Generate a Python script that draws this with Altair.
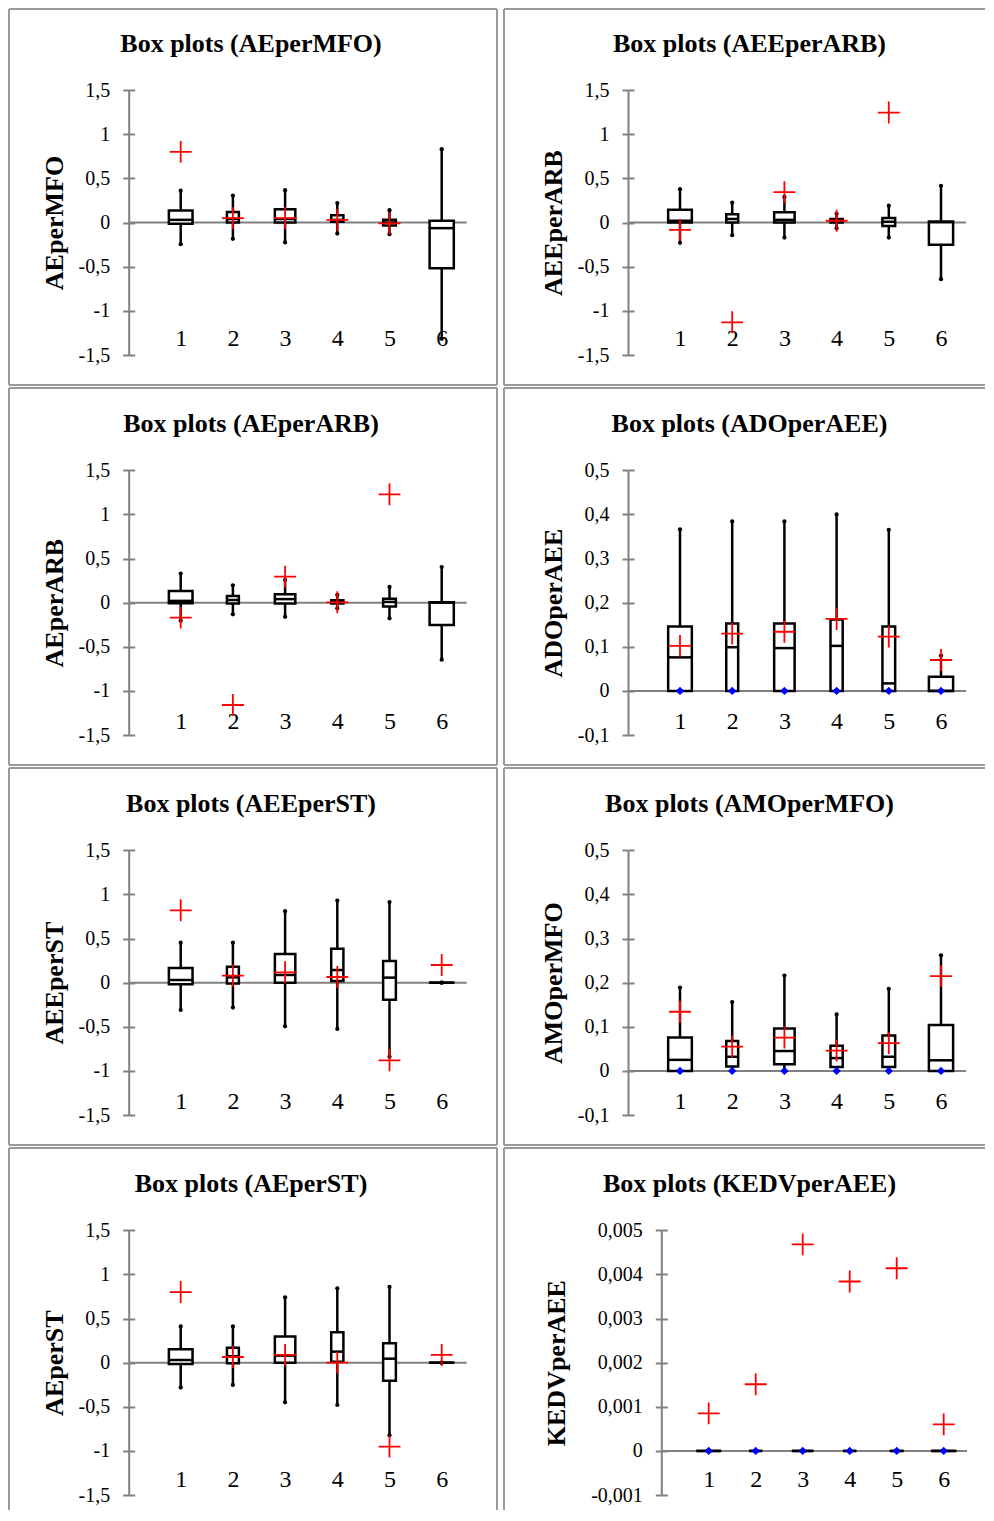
import altair as alt
import pandas as pd

# ---------------- data ----------------
groups = [1, 2, 3, 4, 5, 6]
# relative box widths (XLSTAT draws boxes proportional to group size)
box_rel_width = [0.98, 0.54, 0.86, 0.55, 0.57, 1.0]

# Box plots (AEperMFO)
aepermfo_lo = [-0.245, -0.185, -0.226, -0.125, -0.132, -1.317]
aepermfo_q1 = [-0.015, 0.0, 0.0, 0.008, -0.034, -0.517]
aepermfo_med = [0.03, 0.04, 0.04, 0.03, 0.0, -0.064]
aepermfo_q3 = [0.136, 0.12, 0.15, 0.083, 0.03, 0.02]
aepermfo_hi = [0.36, 0.305, 0.366, 0.22, 0.14, 0.83]
aepermfo_mean = [0.80, 0.05, 0.05, 0.03, -0.01, None]

# Box plots (AEEperARB)
aeeperarb_lo = [-0.23, -0.143, -0.17, -0.064, -0.17, -0.642]
aeeperarb_q1 = [0.0, 0.0, 0.0, 0.0, -0.04, -0.253]
aeeperarb_med = [0.02, 0.04, 0.03, 0.02, 0.008, 0.003]
aeeperarb_q3 = [0.143, 0.094, 0.117, 0.04, 0.05, 0.01]
aeeperarb_hi = [0.377, 0.226, 0.29, 0.098, 0.19, 0.415]
aeeperarb_mean = [-0.083, -1.13, 0.343, 0.02, 1.245, None]

# Box plots (AEperARB)
aeperarb_lo = [-0.204, -0.132, -0.16, -0.064, -0.178, -0.646]
aeperarb_q1 = [-0.008, -0.01, -0.01, -0.01, -0.045, -0.253]
aeperarb_med = [0.02, 0.03, 0.04, 0.008, 0.008, 0.0]
aeperarb_q3 = [0.132, 0.076, 0.094, 0.026, 0.045, 0.004]
aeperarb_hi = [0.33, 0.196, 0.257, 0.087, 0.178, 0.404]
aeperarb_mean = [-0.17, -1.16, 0.295, 0.004, 1.228, None]

# Box plots (ADOperAEE)
adoperaee_lo = [0.0, 0.0, 0.0, 0.0, 0.0, 0.0]
adoperaee_q1 = [0.0, 0.0, 0.0, 0.0, 0.0, 0.0]
adoperaee_med = [0.076, 0.099, 0.097, 0.102, 0.017, 0.0]
adoperaee_q3 = [0.146, 0.153, 0.153, 0.162, 0.146, 0.032]
adoperaee_hi = [0.366, 0.384, 0.384, 0.40, 0.365, 0.08]
adoperaee_mean = [0.102, 0.13, 0.134, 0.163, 0.123, 0.07]
adoperaee_min = [0.0, 0.0, 0.0, 0.0, 0.0, 0.0]

# Box plots (AEEperST)
aeeperst_lo = [-0.31, -0.283, -0.495, -0.525, -0.84, 0.0]
aeeperst_q1 = [-0.019, -0.011, 0.0, 0.02, -0.193, 0.0]
aeeperst_med = [0.03, 0.06, 0.087, 0.143, 0.057, 0.0]
aeeperst_q3 = [0.166, 0.181, 0.325, 0.385, 0.245, 0.0]
aeeperst_hi = [0.453, 0.453, 0.81, 0.93, 0.914, 0.0]
aeeperst_mean = [0.82, 0.079, 0.117, 0.064, -0.88, 0.2]

# Box plots (AMOperMFO)
amopermfo_lo = [0.0, 0.0, 0.0, 0.0, 0.0, 0.0]
amopermfo_q1 = [0.0, 0.01, 0.015, 0.009, 0.009, 0.0]
amopermfo_med = [0.025, 0.032, 0.045, 0.029, 0.032, 0.024]
amopermfo_q3 = [0.0755, 0.068, 0.096, 0.057, 0.08, 0.104]
amopermfo_hi = [0.189, 0.156, 0.216, 0.128, 0.186, 0.262]
amopermfo_mean = [0.134, 0.055, 0.0755, 0.046, 0.063, 0.215]
amopermfo_min = [0.0, 0.0, 0.0, 0.0, 0.0, 0.0]

# Box plots (AEperST)
aeperst_lo = [-0.283, -0.253, -0.45, -0.48, -0.823, 0.0]
aeperst_q1 = [-0.015, -0.008, 0.0, 0.011, -0.204, 0.0]
aeperst_med = [0.03, 0.072, 0.08, 0.125, 0.045, 0.0]
aeperst_q3 = [0.151, 0.17, 0.295, 0.344, 0.219, 0.0]
aeperst_hi = [0.41, 0.41, 0.74, 0.843, 0.858, 0.0]
aeperst_mean = [0.80, 0.064, 0.087, 0.0, -0.952, 0.087]

# Box plots (KEDVperAEE)
kedvperaee_lo = [0.0, 0.0, 0.0, 0.0, 0.0, 0.0]
kedvperaee_q1 = [0.0, 0.0, 0.0, 0.0, 0.0, 0.0]
kedvperaee_med = [0.0, 0.0, 0.0, 0.0, 0.0, 0.0]
kedvperaee_q3 = [0.0, 0.0, 0.0, 0.0, 0.0, 0.0]
kedvperaee_hi = [0.0, 0.0, 0.0, 0.0, 0.0, 0.0]
kedvperaee_mean = [0.00085, 0.00151, 0.00468, 0.00384, 0.00414, 0.0006]
kedvperaee_min = [0.0, 0.0, 0.0, 0.0, 0.0, 0.0]

# y-axis tick values
ticks_pm15 = [-1.5, -1, -0.5, 0, 0.5, 1, 1.5]
ticks_ratio = [-0.1, 0, 0.1, 0.2, 0.3, 0.4, 0.5]
ticks_kedv = [-0.001, 0, 0.001, 0.002, 0.003, 0.004, 0.005]

# ---------------- layout (page pixels) ----------------
COL_LEFT = [9, 504]
COL_W = [488, 481]
ROW_TOP = [9, 388, 768, 1148]
ROW_H = [376, 377, 377, 362]
ROW_AXIS_TOP = [90, 470.3, 850.3, 1230.3]
ROW_AXIS_BOT = [355, 735, 1115, 1495]
ROW_TITLE_BASE = [51.5, 431.5, 811.5, 1191.5]
ROW_LABEL_BASE = [345, 728.5, 1108.5, 1486.5]
COL_GEO = [
    dict(axis=128.7, box1=180.7, box6=441.7, zero_end=466.7, title_cx=251, ytitle=62),
    dict(axis=628, box1=680, box6=941, zero_end=966, title_cx=749.5, ytitle=561),
]
KEDV_GEO = dict(axis=661.3, box1=708.7, box6=943.7, zero_end=967, title_cx=749.5, ytitle=564)

GRAY = "#808080"
FRAME = "#9a9a9a"
FONT = "Liberation Serif"
MAX_BOX = 26.7
BOX_STROKE = 2.5


def frame_edges(W, H, right=True, bottom=True):
    one = pd.DataFrame({"k": [0]})
    edges = [
        alt.Chart(one).mark_rule(color=FRAME, strokeWidth=2).encode(
            x=alt.value(0), x2=alt.value(W), y=alt.value(0)),
        alt.Chart(one).mark_rule(color=FRAME, strokeWidth=2).encode(
            x=alt.value(0), y=alt.value(0), y2=alt.value(H)),
    ]
    if right:
        edges.append(alt.Chart(one).mark_rule(color=FRAME, strokeWidth=2).encode(
            x=alt.value(W), y=alt.value(0), y2=alt.value(H)))
    if bottom:
        edges.append(alt.Chart(one).mark_rule(color=FRAME, strokeWidth=2).encode(
            x=alt.value(0), x2=alt.value(W), y=alt.value(H)))
    return edges


def panel(name, lo, q1, med, q3, hi, mean, yticks, row, col, mins=None, geo=None):
    g = geo or COL_GEO[col]
    W, H = COL_W[col], ROW_H[row]
    ox, oy = COL_LEFT[col], ROW_TOP[row]
    axis_x = g["axis"] - ox
    y_top = ROW_AXIS_TOP[row] - oy
    y_bot = ROW_AXIS_BOT[row] - oy
    lab_y = ROW_LABEL_BASE[row] - oy

    df = pd.DataFrame({"g": groups, "lo": lo, "q1": q1, "med": med, "q3": q3,
                       "hi": hi, "rw": box_rel_width})
    df["box_px"] = df["rw"] * MAX_BOX - BOX_STROKE
    df["med_px"] = df["rw"] * MAX_BOX - 1
    caps = df.melt(id_vars=["g"], value_vars=["lo", "hi"], value_name="v")
    mdf = pd.DataFrame({"g": groups, "v": mean}).dropna()

    yscale = alt.Scale(domain=[yticks[0], yticks[-1]], range=[y_bot, y_top],
                       nice=False, zero=False, padding=0)
    xscale = alt.Scale(domain=[1, 6], range=[g["box1"] - ox, g["box6"] - ox],
                       nice=False, zero=False, padding=0)

    yaxis = alt.Axis(
        orient="left", values=yticks, offset=-axis_x, grid=False,
        domainColor=GRAY, domainWidth=2, tickColor=GRAY, tickWidth=2, tickSize=6,
        labelPadding=13, labelFont=FONT, labelFontSize=20, labelColor="black",
        labelAlign="right", labelBaseline="middle", labelFlush=False, labelOverlap=False,
        labelExpr="replace(toString(datum.value), '.', ',')",
        title=name, titleFont=FONT, titleFontSize=26, titleFontWeight="bold",
        titleColor="black", titleAngle=270, titleAlign="center", titleBaseline="alphabetic",
        titleX=g["ytitle"] - g["axis"], titleY=(y_top + y_bot) / 2,
    )
    xaxis = alt.Axis(
        orient="bottom", values=groups, offset=lab_y - H, grid=False,
        domain=False, ticks=False, tickSize=0, labelPadding=0,
        labelBaseline="alphabetic", labelFont=FONT, labelFontSize=24, labelColor="black",
        labelFlush=False, labelOverlap=False, format="d", title=None,
    )
    X = alt.X("g:Q", scale=xscale, axis=xaxis)

    whisk = alt.Chart(df).mark_rule(color="black", strokeWidth=2.5).encode(
        x=X, y=alt.Y("lo:Q", scale=yscale, axis=yaxis), y2="hi:Q")
    capm = alt.Chart(caps).mark_point(filled=True, color="black", size=18, opacity=1).encode(
        x=X, y=alt.Y("v:Q", scale=yscale, axis=yaxis))
    box = alt.Chart(df).mark_bar(fill="white", stroke="black", strokeWidth=BOX_STROKE).encode(
        x=X, y=alt.Y("q1:Q", scale=yscale, axis=yaxis), y2="q3:Q",
        size=alt.Size("box_px:Q", scale=None, legend=None))
    medm = alt.Chart(df).mark_tick(orient="horizontal", thickness=2.5, color="black", opacity=1).encode(
        x=X, y=alt.Y("med:Q", scale=yscale, axis=yaxis),
        size=alt.Size("med_px:Q", scale=None, legend=None))
    layers = [whisk, capm, box, medm]
    if mins is not None:
        mn = pd.DataFrame({"g": groups, "v": mins})
        layers.append(alt.Chart(mn).mark_point(shape="diamond", filled=True, color="#0000ff",
                                               size=70, opacity=1).encode(
            x=X, y=alt.Y("v:Q", scale=yscale, axis=yaxis)))
    layers.append(alt.Chart(mdf).mark_point(shape="M-1,0L1,0M0,-1L0,1", filled=False, stroke="#ff0000",
                                            strokeWidth=1.8, size=480, opacity=1).encode(
        x=X, y=alt.Y("v:Q", scale=yscale, axis=yaxis)))
    layers.append(alt.Chart(pd.DataFrame({"t": ["Box plots (" + name + ")"]})).mark_text(
        font=FONT, fontSize=26, fontWeight="bold", color="black", align="center",
        baseline="alphabetic").encode(
        x=alt.value(g["title_cx"] - ox), y=alt.value(ROW_TITLE_BASE[row] - oy), text="t:N"))
    main = alt.layer(*layers)

    tick_axis = alt.Axis(orient="right", values=yticks, offset=axis_x - W, grid=False,
                         domain=False, labels=False, ticks=True, tickColor=GRAY, tickWidth=2,
                         tickSize=6, title=None)
    zero = alt.Chart(pd.DataFrame({"z": [0]})).mark_rule(color=GRAY, strokeWidth=2).encode(
        x=alt.value(axis_x), x2=alt.value(g["zero_end"] - ox),
        y=alt.YDatum(datum=0, type="quantitative",
                     scale=alt.Scale(domain=[yticks[0], yticks[-1]], range=[y_bot, y_top],
                                     nice=False, zero=False),
                     axis=tick_axis))
    frame = alt.layer(*frame_edges(W, H, right=(col == 0), bottom=(row < 3)))
    return alt.layer(zero, frame, main).resolve_scale(y="independent").properties(width=W, height=H)


p1 = panel("AEperMFO", aepermfo_lo, aepermfo_q1, aepermfo_med, aepermfo_q3, aepermfo_hi,
           aepermfo_mean, ticks_pm15, 0, 0)
p2 = panel("AEEperARB", aeeperarb_lo, aeeperarb_q1, aeeperarb_med, aeeperarb_q3, aeeperarb_hi,
           aeeperarb_mean, ticks_pm15, 0, 1)
p3 = panel("AEperARB", aeperarb_lo, aeperarb_q1, aeperarb_med, aeperarb_q3, aeperarb_hi,
           aeperarb_mean, ticks_pm15, 1, 0)
p4 = panel("ADOperAEE", adoperaee_lo, adoperaee_q1, adoperaee_med, adoperaee_q3, adoperaee_hi,
           adoperaee_mean, ticks_ratio, 1, 1, mins=adoperaee_min)
p5 = panel("AEEperST", aeeperst_lo, aeeperst_q1, aeeperst_med, aeeperst_q3, aeeperst_hi,
           aeeperst_mean, ticks_pm15, 2, 0)
p6 = panel("AMOperMFO", amopermfo_lo, amopermfo_q1, amopermfo_med, amopermfo_q3, amopermfo_hi,
           amopermfo_mean, ticks_ratio, 2, 1, mins=amopermfo_min)
p7 = panel("AEperST", aeperst_lo, aeperst_q1, aeperst_med, aeperst_q3, aeperst_hi,
           aeperst_mean, ticks_pm15, 3, 0)
p8 = panel("KEDVperAEE", kedvperaee_lo, kedvperaee_q1, kedvperaee_med, kedvperaee_q3, kedvperaee_hi,
           kedvperaee_mean, ticks_kedv, 3, 1, mins=kedvperaee_min, geo=KEDV_GEO)

chart = alt.concat(p1, p2, p3, p4, p5, p6, p7, p8, columns=2,
                   spacing={"row": 3, "column": 7}, bounds="flush", align="each").properties(
    padding=0).configure_view(stroke=None)

chart.save("out.html", embed_options={"renderer": "svg", "actions": False})
